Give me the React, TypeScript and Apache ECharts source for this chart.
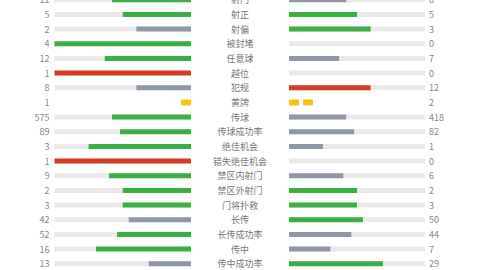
import React, { useEffect, useRef } from "react";
import * as echarts from "echarts";

const categories = [
  "射门", "射正", "射偏", "被封堵", "任意球", "越位", "犯规", "黄牌", "传球",
  "传球成功率", "绝佳机会", "错失绝佳机会", "禁区内射门", "禁区外射门",
  "门将扑救", "长传", "长传成功率", "传中", "传中成功率",
];
const homeValues = [11, 5, 2, 4, 12, 1, 8, 1, 575, 89, 3, 1, 9, 2, 3, 42, 52, 16, 13];
const awayValues = [8, 5, 3, 0, 7, 0, 12, 2, 418, 82, 1, 0, 6, 2, 3, 50, 44, 7, 29];
const negativeStats = ["越位", "犯规", "错失绝佳机会"];
const cardStats = ["黄牌"];

const GREEN = "#3cae45";
const GRAY = "#9097a7";
const RED = "#d63c26";
const TRACK = "#e9e9e9";
const YELLOW = "#f6c417";
const FONT = "Noto Sans CJK SC";

function colorFor(mine: number, other: number, name: string) {
  if (mine >= other) return negativeStats.includes(name) ? RED : GREEN;
  return GRAY;
}

function buildBars(side: "home" | "away") {
  return categories.map((name, i) => {
    if (cardStats.includes(name)) return { value: "-" };
    const h = homeValues[i];
    const a = awayValues[i];
    const total = h + a;
    const mine = side === "home" ? h : a;
    const other = side === "home" ? a : h;
    return {
      value: total ? mine / total : 0,
      itemStyle: { color: colorFor(mine, other, name) },
    };
  });
}

function buildTrack() {
  return categories.map((name) => (cardStats.includes(name) ? "-" : 1));
}

function buildCards(side: "home" | "away") {
  const vals = side === "home" ? homeValues : awayValues;
  return categories
    .map((name, i) => (cardStats.includes(name) ? [0, i, vals[i]] : null))
    .filter((d) => d !== null);
}

function cardRenderer(dir: number) {
  return (params: any, api: any) => {
    const c = api.coord([0, api.value(1)]);
    const n = api.value(2);
    const w = 10, h = 6, gap = 4;
    const children: any[] = [];
    for (let k = 0; k < n; k++) {
      const x = dir > 0 ? c[0] + k * (w + gap) : c[0] - (k + 1) * w - k * gap;
      children.push({
        type: "rect",
        shape: { x, y: c[1] - h / 2, width: w, height: h, r: 1 },
        style: { fill: YELLOW },
      });
    }
    return { type: "group", children };
  };
}

const SHIFT = 20;

export default function App() {
  const ref = useRef<HTMLDivElement>(null);
  useEffect(() => {
    if (!ref.current) return;
    const chart = echarts.init(ref.current, null, { renderer: "svg" });
    const top = -7.6 + SHIFT;
    const height = 278.7;
    const labelStyle = { fontFamily: FONT, fontSize: 9, color: "#888" };
    chart.setOption({
      animation: false,
      backgroundColor: "#fff",
      grid: [
        { left: 54.5, width: 136.5, top, height },
        { left: 289, width: 136, top, height },
      ],
      xAxis: [
        { type: "value", gridIndex: 0, min: 0, max: 1, inverse: true, show: false },
        { type: "value", gridIndex: 1, min: 0, max: 1, show: false },
      ],
      yAxis: [
        {
          type: "category", gridIndex: 0, data: categories, inverse: true, position: "left",
          axisLine: { show: false }, axisTick: { show: false },
          axisLabel: {
            ...labelStyle, margin: 5, interval: 0,
            formatter: (_v: string, idx: number) => String(homeValues[idx]),
          },
        },
        {
          type: "category", gridIndex: 1, data: categories, inverse: true, position: "right",
          axisLine: { show: false }, axisTick: { show: false },
          axisLabel: {
            ...labelStyle, margin: 4, interval: 0, align: "left",
            formatter: (_v: string, idx: number) => String(awayValues[idx]),
          },
        },
        {
          type: "category", gridIndex: 0, data: categories, inverse: true, position: "right",
          axisLine: { show: false }, axisTick: { show: false },
          axisLabel: {
            fontFamily: FONT, fontSize: 9, color: "#777", margin: 49, interval: 0, align: "center",
          },
        },
      ],
      series: [
        {
          type: "bar", xAxisIndex: 0, yAxisIndex: 0, data: buildTrack(), barWidth: 5,
          barGap: "-100%", itemStyle: { color: TRACK }, silent: true,
        },
        {
          type: "bar", xAxisIndex: 0, yAxisIndex: 0, data: buildBars("home"), barWidth: 5,
          barGap: "-100%",
        },
        {
          type: "bar", xAxisIndex: 1, yAxisIndex: 1, data: buildTrack(), barWidth: 5,
          barGap: "-100%", itemStyle: { color: TRACK }, silent: true,
        },
        {
          type: "bar", xAxisIndex: 1, yAxisIndex: 1, data: buildBars("away"), barWidth: 5,
          barGap: "-100%",
        },
        {
          type: "custom", xAxisIndex: 0, yAxisIndex: 0, data: buildCards("home"),
          encode: { x: 0, y: 1 }, renderItem: cardRenderer(-1),
        },
        {
          type: "custom", xAxisIndex: 1, yAxisIndex: 1, data: buildCards("away"),
          encode: { x: 0, y: 1 }, renderItem: cardRenderer(1),
        },
      ],
    });
    return () => chart.dispose();
  }, []);
  return (
    <div
      ref={ref}
      style={{ position: "fixed", left: 0, top: -SHIFT, width: 480, height: 270 + 2 * SHIFT, background: "#fff" }}
    />
  );
}
